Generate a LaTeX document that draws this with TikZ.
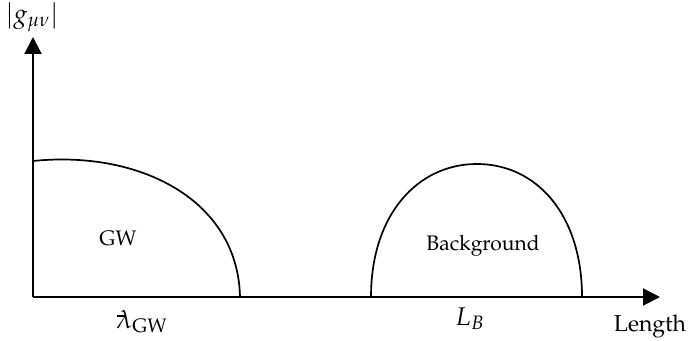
\documentclass[tikz,border=0pt]{standalone}
\usepackage[T1]{fontenc}
\usepackage{mathpazo}
\usetikzlibrary{arrows.meta}
\newcommand{\mylbar}{{\ooalign{$\lambda$\cr\kern0.04em\raisebox{0.44em}{\rule{0.34em}{0.055em}}\hidewidth\cr}}}
\tikzset{
  axis/.style={line width=1pt,-{Triangle[length=8.5pt,width=8.5pt]}},
  curve/.style={line width=0.85pt},
  lbl/.style={inner sep=0pt,font=\fontsize{10.5}{12}\selectfont},
  mlbl/.style={inner sep=0pt,font=\fontsize{12.8}{15}\selectfont},
}
\begin{document}
\begin{tikzpicture}[x=0.5pt,y=-0.5pt]
\useasboundingbox (0,0) rectangle (688,341);
\coordinate (o) at (33,297);
\coordinate (ytip) at (33,37);
\coordinate (xtip) at (660,297);
\draw[axis] (o) -- (ytip);
\draw[axis] (o) -- (xtip);
\coordinate (g0) at (33,161);
\coordinate (g1) at (240,297);
\draw[curve] (g0) .. controls (140,150) and (238,200) .. (g1);
\coordinate (b0) at (371,297);
\coordinate (bt) at (477,164);
\coordinate (b1) at (582,297);
\draw[curve] (b0) .. controls (371,214) and (418,164) .. (bt)
                  .. controls (536,164) and (582,214) .. (b1);
\node[mlbl] (ylab) at (32,17) {$|g_{\mu\nu}|$};
\node[lbl] (gw) at (118,238) {GW};
\node[lbl] (bg) at (483,246) {Background};
\node[mlbl,anchor=base] (lgw) at (142,328) {$\mylbar_{\mathrm{GW}}$};
\node[mlbl,anchor=base] (lb) at (470,325) {$L_B$};
\node[lbl,anchor=base,font=\fontsize{11.5}{13}\selectfont] (len) at (650,331) {Length};
\end{tikzpicture}
\end{document}
